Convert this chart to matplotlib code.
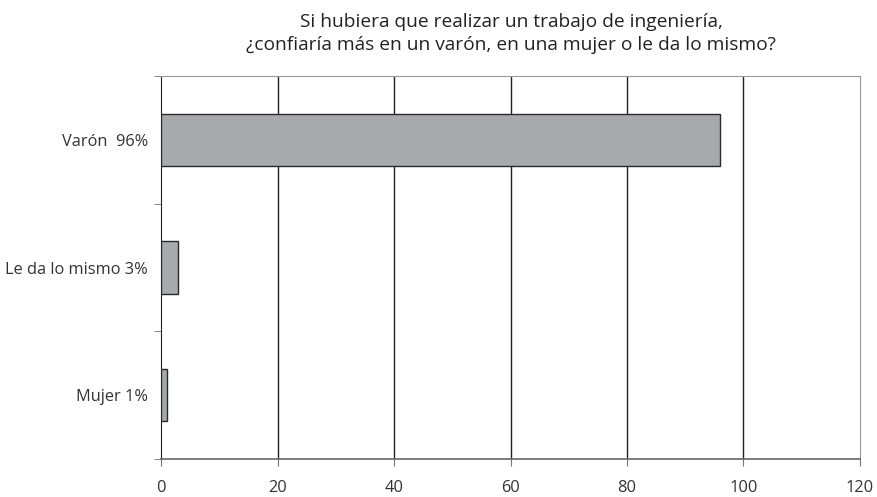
import matplotlib.pyplot as plt
import numpy as np

# data
categories = ["Mujer 1%", "Le da lo mismo 3%", "Varón  96%"]
values = [1, 3, 96]
xticks = [0, 20, 40, 60, 80, 100, 120]
title = "Si hubiera que realizar un trabajo de ingeniería,\n¿confiaría más en un varón, en una mujer o le da lo mismo?"

plt.rcParams['font.family'] = ['Open Sans', 'DejaVu Sans']

fig = plt.figure(figsize=(8.77, 4.97), dpi=100)
ax = fig.add_axes([0.1836, 0.0765, 0.797, 0.7705])

pos = np.arange(len(categories))
ax.barh(pos, values, height=0.41, color="#a8a9ac", edgecolor="#2a2a2a", linewidth=1.0, zorder=3)

ax.set_xlim(0, 120)
ax.set_ylim(-0.5, len(categories) - 0.5)
ax.set_xticks(xticks)
ax.set_xticklabels([str(t) for t in xticks], fontsize=11.8, color="#333333")
ax.tick_params(axis='x', direction='out', length=5, color="#777777", pad=10)

# category labels in the middle, ticks on the boundaries
ax.set_yticks(pos)
ax.set_yticklabels(categories, fontsize=11.8, color="#333333")
ax.tick_params(axis='y', length=0, pad=9.5)
ax.set_yticks(np.arange(-0.5, len(categories), 1), minor=True)
ax.tick_params(axis='y', which='minor', direction='out', length=5, color="#777777")

for t in xticks[1:-1]:
    ax.axvline(t, color="#222222", linewidth=1.0, zorder=1)

for side in ["top", "right"]:
    ax.spines[side].set_color("#999999")
ax.spines["bottom"].set_color("#666666")
ax.spines["left"].set_color("#222222")
ax.spines["bottom"].set_linewidth(1.2)

fig.text(0.583, 0.933, title, ha="center", va="center", fontsize=13.8, color="#222222", linespacing=1.35)

plt.savefig("out.png", dpi=100)
